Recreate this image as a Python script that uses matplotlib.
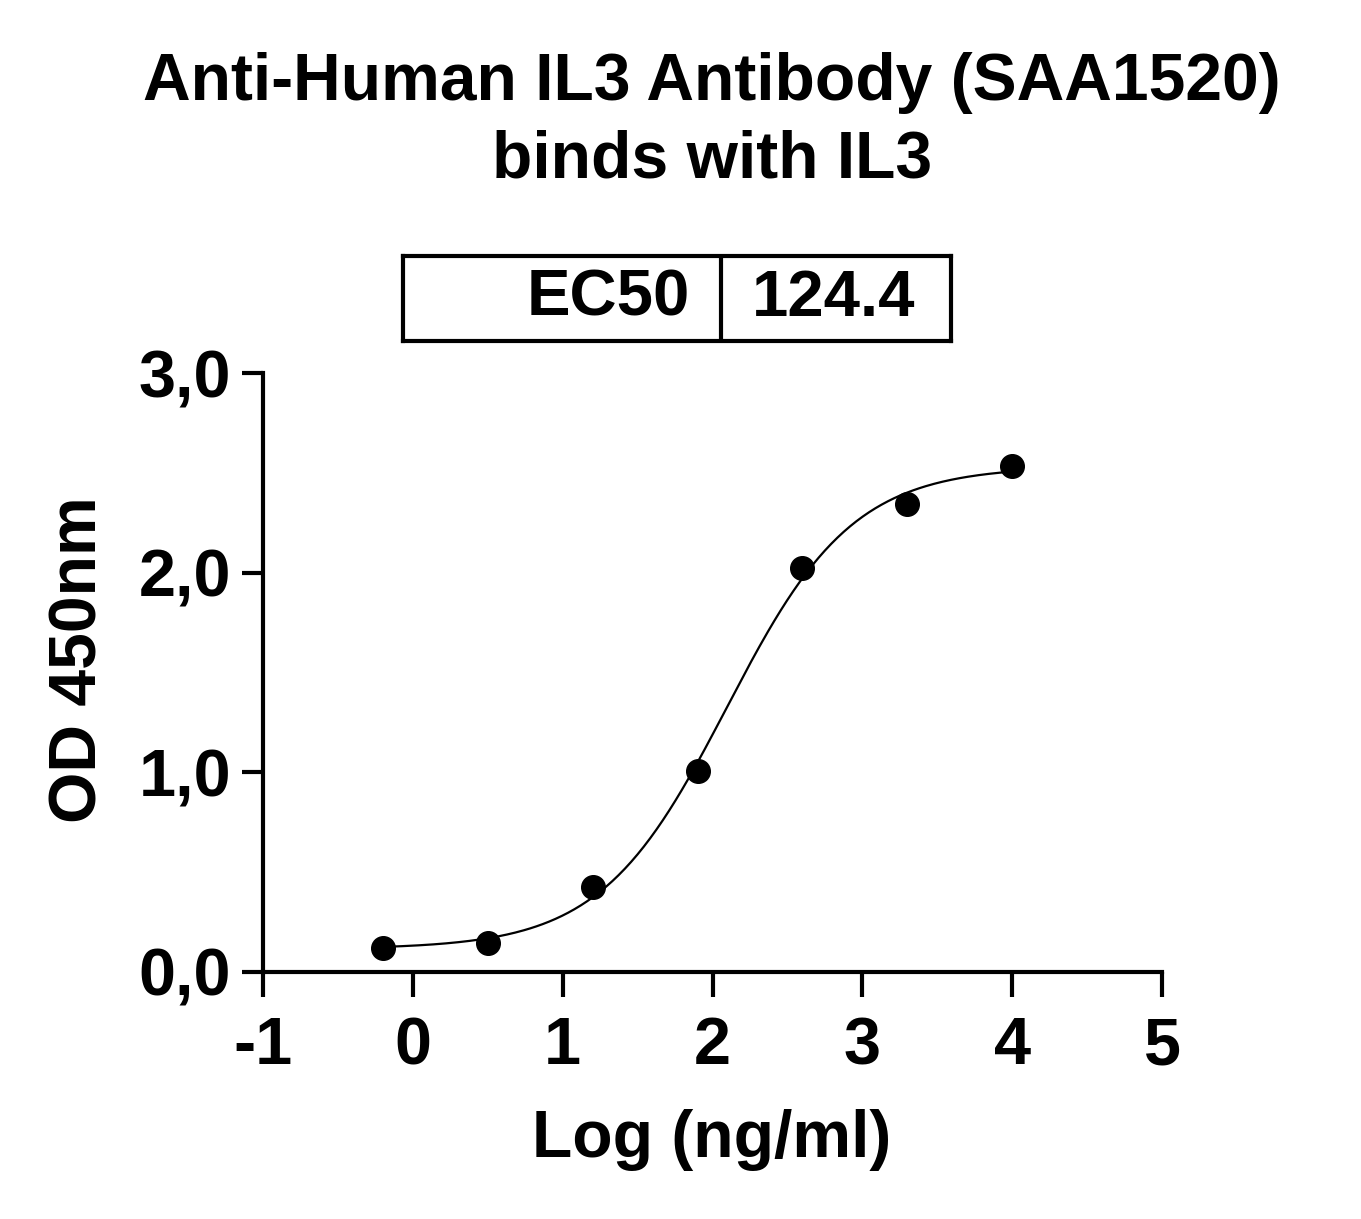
import numpy as np
import matplotlib.pyplot as plt

plt.rcParams['font.family'] = ['Liberation Sans', 'DejaVu Sans']
plt.rcParams['font.weight'] = 'bold'

# data
log_conc = [-0.2, 0.5, 1.2, 1.9, 2.6, 3.3, 4.0]
od450 = [0.12, 0.145, 0.426, 1.006, 2.023, 2.343, 2.534]
ec50 = 124.4
# 4PL least-squares fit of the points above (gives EC50 ~124.5)
bottom, top, hill = 0.1153, 2.5324, 1.03
x_ticks = [-1, 0, 1, 2, 3, 4, 5]
y_ticks = [0.0, 1.0, 2.0, 3.0]
y_ticklabels = ['0,0', '1,0', '2,0', '3,0']

fig = plt.figure(figsize=(13.61, 12.19), dpi=100)
ax = fig.add_axes([263/1361, 1-972/1219, 899/1361, 599/1219])

xf = np.linspace(min(log_conc), max(log_conc), 300)
yf = bottom + (top - bottom) / (1 + 10 ** ((np.log10(ec50) - xf) * hill))
ax.plot(xf, yf, color='black', lw=1.6, zorder=2)
ax.plot(log_conc, od450, 'o', color='black', ms=17, zorder=3, clip_on=False)

ax.set_xlim(-1, 5)
ax.set_ylim(0, 3)
ax.set_xticks(x_ticks)
ax.set_xticklabels([str(t) for t in x_ticks])
ax.set_yticks(y_ticks)
ax.set_yticklabels(y_ticklabels)
for s in ['top', 'right']:
    ax.spines[s].set_visible(False)
for s in ['left', 'bottom']:
    ax.spines[s].set_linewidth(3)
ax.tick_params(axis='x', length=18, width=3, labelsize=48, pad=14)
ax.tick_params(axis='y', length=15, width=3, labelsize=48, pad=8)
for lab in ax.get_xticklabels() + ax.get_yticklabels():
    lab.set_fontweight('bold')

fig.text(712/1361, 1-1140/1219, 'Log (ng/ml)', ha='center', va='center',
         fontsize=47.5, fontweight='bold')
fig.text(80/1361, 1-660/1219, 'OD 450nm', ha='center', va='center',
         rotation=90, fontsize=47.5, fontweight='bold')
fig.text(712/1361, 1-83/1219, 'Anti-Human IL3 Antibody (SAA1520)', ha='center',
         va='center', fontsize=47.5, fontweight='bold')
fig.text(712/1361, 1-160/1219, 'binds with IL3', ha='center', va='center',
         fontsize=47.5, fontweight='bold')

# EC50 box
tab = fig.add_axes([403/1361, 1-341/1219, 548/1361, 85/1219])
tab.set_xlim(0, 1)
tab.set_ylim(0, 1)
tab.set_xticks([])
tab.set_yticks([])
for s in tab.spines.values():
    s.set_linewidth(3)
tab.axvline(318/548, color='black', lw=3)
tab.text(0.524, 0.5, 'EC50', ha='right', va='center', fontsize=47, fontweight='bold')
tab.text(0.786, 0.5, f'{ec50}', ha='center', va='center', fontsize=47, fontweight='bold')

fig.savefig('out.png', dpi=100)
